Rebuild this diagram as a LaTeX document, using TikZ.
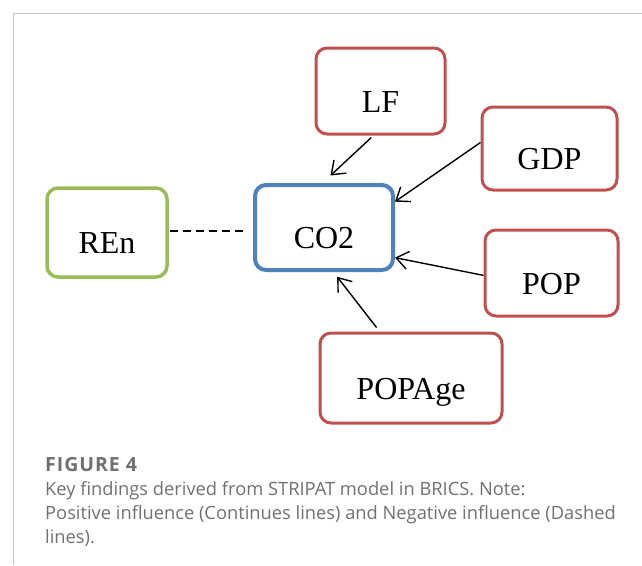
\documentclass[tikz,border=0pt]{standalone}
\usepackage{xcolor}
\usepackage{fontspec}
\setmainfont{Liberation Serif}
\newfontfamily\capfont{Open Sans}
\newfontfamily\capnumfont[LetterSpace=5]{Open Sans}
\usepackage{tikz}
\usetikzlibrary{arrows.meta, calc, positioning}
\definecolor{boxred}{HTML}{C0504D}
\definecolor{boxgreen}{HTML}{9BBB59}
\definecolor{boxblue}{HTML}{4F81BD}
\definecolor{framegray}{HTML}{C4C4C4}
\definecolor{capgray}{HTML}{707070}

\tikzset{
	varbox/.style={draw, rounded corners=11pt, fill=white, inner sep=0pt,
		text height=42pt, text depth=0pt, font=\fontsize{32}{38}\selectfont},
	redbox/.style={varbox, draw=boxred, line width=3pt},
	greenbox/.style={varbox, draw=boxgreen, line width=3.5pt},
	bluebox/.style={varbox, draw=boxblue, line width=4pt},
	posline/.style={line width=1.4pt, -{Straight Barb[length=12pt, width=18pt, line width=1.4pt]}},
	negline/.style={line width=1.4pt, dash pattern=on 8pt off 5pt}
}

\begin{document}
\begin{tikzpicture}[x=1pt, y=-1pt]
	\useasboundingbox (0,0) rectangle (642,565);
	
	% frame of the figure
	\draw[framegray, line width=1pt] (642,13.5) -- (13,13.5) -- (13,565);
	
	% variables
	\node[bluebox, minimum width=138pt, minimum height=85pt] (co2) at (324,227.5) {CO2};
	\node[greenbox, minimum width=120pt, minimum height=89pt] (ren) at (107,232.5) {REn};
	\node[redbox, minimum width=129pt, minimum height=86pt] (lf) at (380.5,91) {LF};
	\node[redbox, minimum width=135pt, minimum height=83pt] (gdp) at (549.5,148.5) {GDP};
	\node[redbox, minimum width=133pt, minimum height=86pt] (pop) at (551.5,273) {POP};
	\node[redbox, minimum width=182pt, minimum height=90pt] (popage) at (411,378) {POPAge};
	
	% positive influence
	\draw[posline, shorten <=3pt, shorten >=11pt] (lf.261) -- (co2.92);
	\draw[posline] (gdp.175) -- (co2.20);
	\draw[posline] (pop.182) -- (co2.337);
	\draw[posline, shorten <=5pt, shorten >=6pt] (popage.124.6) -- (co2.282);
	
	% negative influence
	\draw[negline, shorten <=1pt, shorten >=7pt] (ren.east |- 0,231) -- (co2.west |- 0,231);
	
	% caption
	\node[anchor=base west, inner sep=0pt, text=capgray, font=\capnumfont\bfseries\fontsize{19.5}{24}\selectfont] (fignum) at (45,471) {FIGURE 4};
	\node[anchor=base west, inner sep=0pt, text=capgray, align=left, font=\capfont\fontsize{18.3}{24}\selectfont] (caption) at (45,543) {Key findings derived from STRIPAT model in BRICS. Note:\\Positive influence (Continues lines) and Negative influence (Dashed\\lines).};
\end{tikzpicture}
\end{document}
